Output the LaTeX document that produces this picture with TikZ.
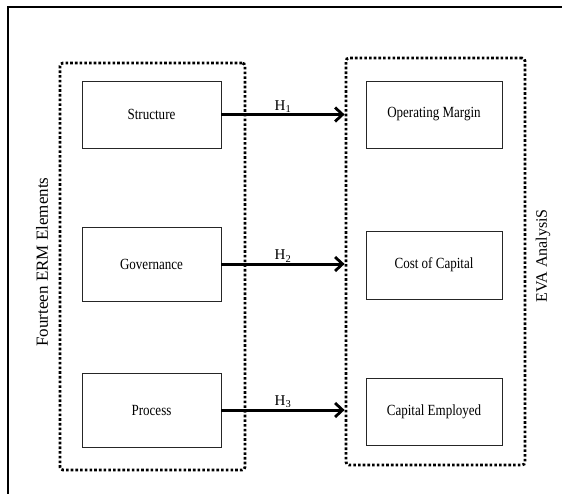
\documentclass[tikz,border=0pt]{standalone}
\usepackage{fontspec}
\setmainfont{Liberation Serif}
\newfontfamily\boxfont[FakeStretch=0.84]{Liberation Serif}
\usetikzlibrary{arrows.meta}
\tikzset{
  elem/.style={rectangle,draw=black!85,line width=0.9pt,fill=white,
    font=\boxfont\fontsize{15.5}{17}\selectfont},
  grp/.style={rectangle,draw=black,line width=2.8pt,rounded corners=3pt,
    dash pattern=on 2.6pt off 2.1pt,minimum width=#1,minimum height=407pt},
  hyp/.style={line width=3pt,-{Straight Barb[length=7.5pt,width=14pt,line width=2.8pt]}},
  hlab/.style={above,inner sep=0.5pt,font=\fontsize{15}{17}\selectfont},
  side/.style={rotate=90,font=\fontsize{#1}{20}\selectfont}
}
\begin{document}
\begin{tikzpicture}[x=1pt,y=-1pt]
\useasboundingbox (0,0) rectangle (562,493);
\clip (0,0) rectangle (562,493);
\draw[line width=1.8pt] (8,7) rectangle (580,510);

% dotted groups
\node (lgrp) at (152.5,266.5)[grp=185pt]{};
\node (rgrp) at (435.5,261.5)[grp=179pt]{};

% ERM elements
\node (st) at (151.5,114.5)[elem,minimum width=139pt,minimum height=67pt]{Structure};
\node (gov) at (151.5,264)[elem,minimum width=139pt,minimum height=74pt]{Governance};
\node (pro) at (151.5,410)[elem,minimum width=139pt,minimum height=74pt]{Process};

% EVA parts
\node (om) at (434,114.5)[elem,minimum width=136pt,minimum height=67pt]{Operating Margin};
\node (coc) at (434,265)[elem,minimum width=136pt,minimum height=68pt]{Cost of Capital};
\node (ce) at (434,411.5)[elem,minimum width=136pt,minimum height=67pt]{Capital Employed};

\node (erm) at (42,262)[side=17]{Fourteen ERM Elements};
\node (eva) at (543,256)[side=16]{EVA AnalysiS};

\draw[hyp] (st.east)--node[hlab]{H\textsubscript{1}}(st.east -| rgrp.west);
\draw[hyp] (gov.east)--node[hlab]{H\textsubscript{2}}(gov.east -| rgrp.west);
\draw[hyp] (pro.east)--node[hlab]{H\textsubscript{3}}(pro.east -| rgrp.west);
\end{tikzpicture}
\end{document}
